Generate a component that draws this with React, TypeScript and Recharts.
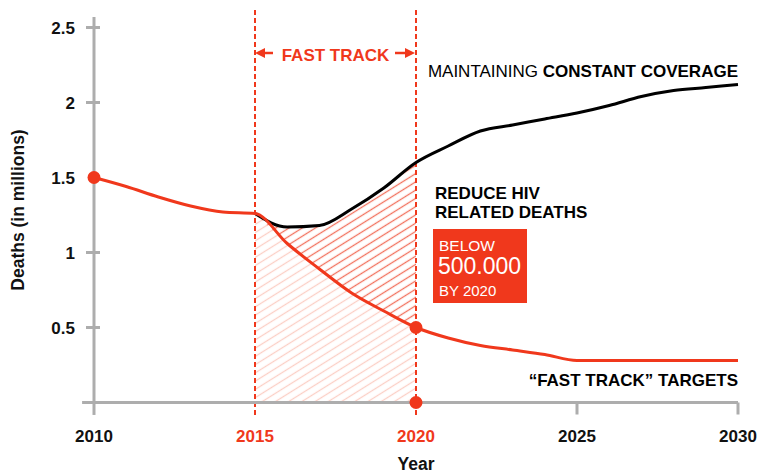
import React from 'react';
import {
  ComposedChart,
  Line,
  Area,
  XAxis,
  YAxis,
  ReferenceLine,
  ReferenceDot,
} from 'recharts';

// values in millions of deaths
const YEARS = [
  2010, 2011, 2012, 2013, 2014, 2015, 2016, 2017, 2018, 2019, 2020,
  2021, 2022, 2023, 2024, 2025, 2026, 2027, 2028, 2029, 2030,
];
const FAST_TRACK = [
  1.5, 1.44, 1.37, 1.31, 1.27, 1.26, 1.06, 0.89, 0.73, 0.61, 0.5,
  0.43, 0.38, 0.35, 0.32, 0.28, 0.28, 0.28, 0.28, 0.28, 0.28,
];
const CONSTANT_COVERAGE = [
  null, null, null, null, null, 1.26, 1.17, 1.18, 1.29, 1.43, 1.6,
  1.71, 1.81, 1.85, 1.89, 1.93, 1.98, 2.04, 2.08, 2.1, 2.12,
];
const X_TICKS = [2010, 2015, 2020, 2025, 2030];
const Y_TICKS = [0.5, 1, 1.5, 2, 2.5];
const WINDOW_START = 2015;
const WINDOW_END = 2020;
const HIGHLIGHT_YEARS = [2010, 2020];

const RED = '#f0381c';
const GRAY = '#adadad';
const FONT = '"Liberation Sans", Arial, sans-serif';

const PLOT_LEFT = 94;
const PLOT_RIGHT = 738;
const PLOT_TOP = 27.5;
const PLOT_BOTTOM = 402.5;

const data = YEARS.map((year, i) => {
  const inWindow = year >= WINDOW_START && year <= WINDOW_END;
  return {
    year,
    fastTrack: FAST_TRACK[i],
    coverage: CONSTANT_COVERAGE[i],
    lower: inWindow ? FAST_TRACK[i] : null,
    band: inWindow ? [FAST_TRACK[i], CONSTANT_COVERAGE[i]] : null,
  };
});

const XTick = (props: any) => {
  const { x, payload } = props;
  const v = payload.value;
  const red = v === WINDOW_START || v === WINDOW_END;
  return (
    <g>
      {v > WINDOW_END && (
        <line x1={x} x2={x} y1={PLOT_BOTTOM} y2={PLOT_BOTTOM + 12} stroke={GRAY} strokeWidth={3} />
      )}
      <text
        x={x}
        y={PLOT_BOTTOM + 39.5}
        textAnchor="middle"
        fontSize={17}
        fontWeight="bold"
        fontFamily={FONT}
        fill={red ? RED : '#111'}
      >
        {v}
      </text>
    </g>
  );
};

const YTick = (props: any) => {
  const { y, payload } = props;
  // the 2010 starting dot sits on the 1.5 tick and hides it
  const hidden = payload.value === FAST_TRACK[0];
  return (
    <g>
      {!hidden && (
        <line x1={PLOT_LEFT - 8} x2={PLOT_LEFT + 6} y1={y} y2={y} stroke={GRAY} strokeWidth={3} />
      )}
      <text
        x={PLOT_LEFT - 19}
        y={y}
        dy="0.36em"
        textAnchor="end"
        fontSize={17}
        fontWeight="bold"
        fontFamily={FONT}
        fill="#111"
      >
        {payload.value}
      </text>
    </g>
  );
};

const axisStroke = { stroke: GRAY, strokeWidth: 3 };

export default function App() {
  return (
    <div style={{ position: 'relative', width: 760, height: 473, background: '#fff' }}>
      <style>{'body{margin:0}'}</style>
      <ComposedChart
        width={760}
        height={473}
        data={data}
        margin={{ top: PLOT_TOP, right: 760 - PLOT_RIGHT, bottom: 473 - PLOT_BOTTOM - 40, left: PLOT_LEFT - 60 }}
      >
        <defs>
          <pattern id="hatchLight" patternUnits="userSpaceOnUse" width="8" height="7" patternTransform="rotate(-32)">
            <line x1="0" y1="3.5" x2="8" y2="3.5" stroke="#fbcfc5" strokeWidth="1.3" />
          </pattern>
          <pattern id="hatchDark" patternUnits="userSpaceOnUse" width="8" height="7" patternTransform="rotate(-32)">
            <line x1="0" y1="3.5" x2="8" y2="3.5" stroke="#f2725e" strokeWidth="1.3" />
          </pattern>
        </defs>
        <XAxis
          dataKey="year"
          type="number"
          domain={[2010, 2030]}
          ticks={X_TICKS}
          axisLine={axisStroke}
          tickLine={false}
          tick={<XTick />}
          height={40}
        />
        <YAxis
          type="number"
          domain={[0, 2.5]}
          ticks={Y_TICKS}
          axisLine={axisStroke}
          tickLine={false}
          tick={<YTick />}
          width={60}
        />
        <Area
          dataKey="lower"
          type="monotone"
          stroke="none"
          fill="url(#hatchLight)"
          fillOpacity={1}
          isAnimationActive={false}
        />
        <Area
          dataKey="band"
          type="monotone"
          stroke="none"
          fill="url(#hatchDark)"
          fillOpacity={1}
          isAnimationActive={false}
        />
        {/* short axis extensions past the plot, as in the original */}
        <ReferenceLine
          segment={[{ x: 2010, y: 2.5 }, { x: 2010, y: 2.57 }]}
          stroke={GRAY}
          strokeWidth={3}
          ifOverflow="visible"
        />
        <ReferenceLine
          segment={[{ x: 2010, y: -0.083 }, { x: 2010, y: 0 }]}
          stroke={GRAY}
          strokeWidth={3}
          ifOverflow="visible"
        />
        <ReferenceLine
          segment={[{ x: 2009.63, y: 0 }, { x: 2010, y: 0 }]}
          stroke={GRAY}
          strokeWidth={3}
          ifOverflow="visible"
        />
        {[WINDOW_START, WINDOW_END].map((yr) => (
          <ReferenceLine
            key={yr}
            segment={[{ x: yr, y: -0.083 }, { x: yr, y: 2.617 }]}
            stroke={RED}
            strokeWidth={2}
            strokeDasharray="5 3"
            ifOverflow="visible"
          />
        ))}
        <Line
          dataKey="coverage"
          type="monotone"
          stroke="#000"
          strokeWidth={3}
          dot={false}
          isAnimationActive={false}
        />
        <Line
          dataKey="fastTrack"
          type="monotone"
          stroke={RED}
          strokeWidth={3}
          dot={false}
          activeDot={false}
          isAnimationActive={false}
        />
        {HIGHLIGHT_YEARS.map((yr) => (
          <ReferenceDot
            key={yr}
            x={yr}
            y={FAST_TRACK[YEARS.indexOf(yr)]}
            r={6.5}
            fill={RED}
            stroke="none"
            ifOverflow="visible"
            zIndex={2000}
          />
        ))}
        <ReferenceDot x={WINDOW_END} y={0} r={6.5} fill={RED} stroke="none" ifOverflow="visible" zIndex={2000} />
      </ComposedChart>

      <svg
        width={760}
        height={473}
        style={{ position: 'absolute', left: 0, top: 0, pointerEvents: 'none' }}
        fontFamily={FONT}
      >
        {/* fast track bracket */}
        <polygon points="255,53 265,48 265,58" fill={RED} />
        <line x1={264} x2={273} y1={53} y2={53} stroke={RED} strokeWidth={2.5} />
        <polygon points="415,53 405,48 405,58" fill={RED} />
        <line x1={395} x2={406} y1={53} y2={53} stroke={RED} strokeWidth={2.5} />
        <text x={335.5} y={61} textAnchor="middle" fontSize={17} fontWeight="bold" fill={RED}>
          FAST TRACK
        </text>

        <text x={PLOT_RIGHT} y={76.5} textAnchor="end" fontSize={17} fill="#000">
          MAINTAINING <tspan fontWeight="bold">CONSTANT COVERAGE</tspan>
        </text>

        <text x={435} y={198.5} fontSize={17} fontWeight="bold" fill="#000">
          REDUCE HIV
        </text>
        <text x={435} y={218} fontSize={17} fontWeight="bold" fill="#000">
          RELATED DEATHS
        </text>

        <rect x={433} y={229} width={94} height={74} fill={RED} />
        <text x={439} y={251} fontSize={15.5} fill="#fff">
          BELOW
        </text>
        <text x={438} y={274} fontSize={23} fill="#fff">
          500.000
        </text>
        <text x={439} y={296} fontSize={15} fill="#fff">
          BY 2020
        </text>

        <text x={PLOT_RIGHT} y={386} textAnchor="end" fontSize={17} fontWeight="bold" fill="#000">
          “FAST TRACK” TARGETS
        </text>

        <text x={416} y={470} textAnchor="middle" fontSize={17.5} fontWeight="bold" fill="#111">
          Year
        </text>
        <text
          x={0}
          y={0}
          transform="translate(24 210) rotate(-90)"
          textAnchor="middle"
          fontSize={17.5}
          fontWeight="bold"
          fill="#111"
        >
          Deaths (in millions)
        </text>
      </svg>
    </div>
  );
}
